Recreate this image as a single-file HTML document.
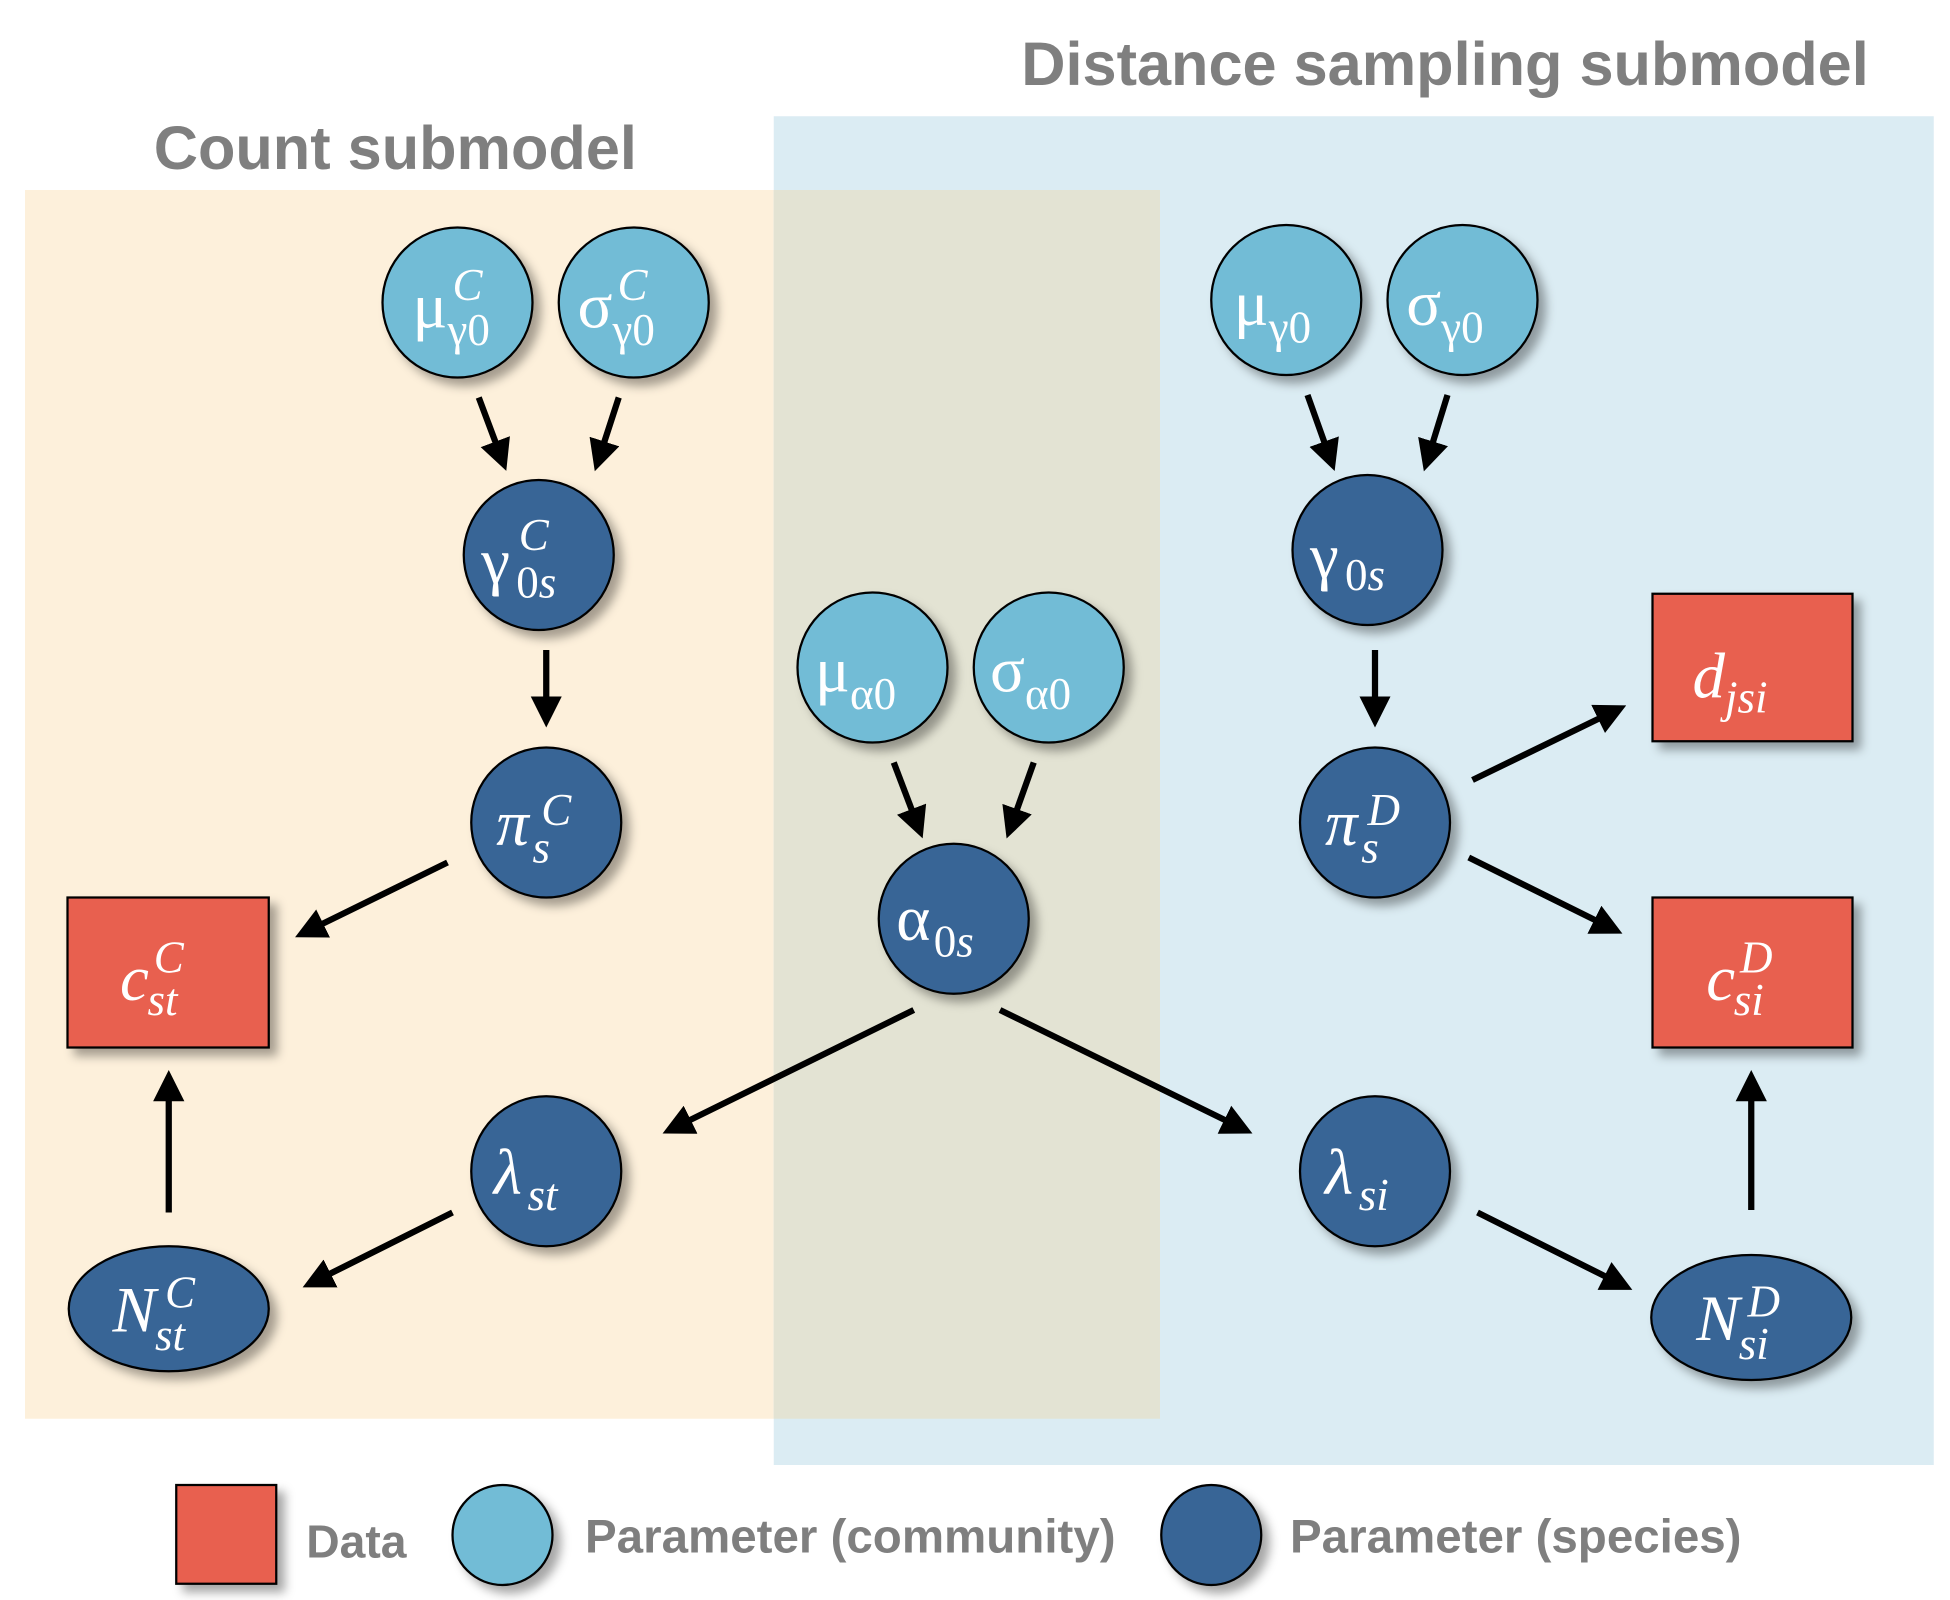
<!DOCTYPE html>
<html><head><meta charset="utf-8"><style>
html,body{margin:0;padding:0;background:#fff;}
svg{display:block;}
.t text{font-family:"Liberation Serif",serif;fill:#fff;}
.b{font-size:52px;}
.s{font-size:36px;}
.i{font-style:italic;}
.h{font-family:"Liberation Sans",sans-serif;font-weight:bold;fill:#7f7f7f;}
</style></head><body>
<svg width="1950" height="1600" viewBox="0 0 1560 1280" preserveAspectRatio="none" xmlns="http://www.w3.org/2000/svg">
<defs>
<filter id="sh" x="-30%" y="-30%" width="170%" height="170%"><feDropShadow dx="6" dy="6" stdDeviation="4" flood-color="#000" flood-opacity="0.35"/></filter>
<marker id="a" markerWidth="5" markerHeight="5" refX="1" refY="2.5" orient="auto" markerUnits="strokeWidth"><path d="M0,0 L5,2.5 L0,5 z" fill="#000"/></marker>
</defs>
<rect x="20" y="152" width="908" height="983" fill="#fdf0db"/>
<rect x="619" y="93" width="928" height="1079" fill="#dbecf3"/>
<rect x="619" y="152" width="309" height="983" fill="#e3e3d3"/>
<text class="h" x="123" y="135" font-size="49">Count submodel</text>
<text class="h" x="817" y="68" font-size="49">Distance sampling submodel</text>
<g stroke="#000" stroke-width="5" marker-end="url(#a)">
<line x1="383" y1="318" x2="398" y2="358"/>
<line x1="495" y1="318" x2="482" y2="358"/>
<line x1="437" y1="520" x2="437" y2="562"/>
<line x1="358" y1="690" x2="254" y2="741"/>
<line x1="135" y1="970" x2="135" y2="876"/>
<line x1="362" y1="970" x2="260" y2="1021"/>
<line x1="731" y1="808" x2="548" y2="898"/>
<line x1="800" y1="808" x2="984" y2="898"/>
<line x1="1046" y1="316" x2="1061" y2="358"/>
<line x1="1158" y1="316" x2="1145" y2="358"/>
<line x1="1100" y1="520" x2="1100" y2="562"/>
<line x1="1178" y1="624" x2="1283" y2="573"/>
<line x1="1175" y1="686" x2="1280" y2="738"/>
<line x1="1182" y1="970" x2="1288" y2="1023"/>
<line x1="1401" y1="968" x2="1401" y2="876"/>
<line x1="715" y1="610" x2="731" y2="652"/>
<line x1="827" y1="610" x2="812" y2="652"/>
</g>
<g stroke="#000" stroke-width="1.8" filter="url(#sh)">
<circle cx="366" cy="242" r="60" fill="#72bcd6"/>
<circle cx="507" cy="242" r="60" fill="#72bcd6"/>
<circle cx="1029" cy="240" r="60" fill="#72bcd6"/>
<circle cx="1170" cy="240" r="60" fill="#72bcd6"/>
<circle cx="698" cy="534" r="60" fill="#72bcd6"/>
<circle cx="839" cy="534" r="60" fill="#72bcd6"/>
<circle cx="431" cy="444" r="60" fill="#376596"/>
<circle cx="437" cy="658" r="60" fill="#376596"/>
<circle cx="437" cy="937" r="60" fill="#376596"/>
<circle cx="1094" cy="440" r="60" fill="#376596"/>
<circle cx="1100" cy="658" r="60" fill="#376596"/>
<circle cx="1100" cy="937" r="60" fill="#376596"/>
<circle cx="763" cy="735" r="60" fill="#376596"/>
<ellipse cx="135" cy="1047" rx="80" ry="50" fill="#376596"/>
<ellipse cx="1401" cy="1054" rx="80" ry="50" fill="#376596"/>
<rect x="54" y="718" width="161" height="120" fill="#e8604f"/>
<rect x="1322" y="475" width="160" height="118" fill="#e8604f"/>
<rect x="1322" y="718" width="160" height="120" fill="#e8604f"/>
<rect x="141" y="1188" width="80" height="79" fill="#e8604f"/>
<circle cx="402" cy="1228" r="40" fill="#72bcd6"/>
<circle cx="969" cy="1228" r="40" fill="#376596"/>
</g>
<g class="t">
<text class="b" x="330" y="262">μ</text><text class="s" x="358" y="276">γ0</text><text class="s i" x="362" y="240">C</text>
<text class="b" x="462" y="262">σ</text><text class="s" x="490" y="276">γ0</text><text class="s i" x="494" y="240">C</text>
<text class="b" x="987" y="260">μ</text><text class="s" x="1015" y="274">γ0</text>
<text class="b" x="1125" y="260">σ</text><text class="s" x="1153" y="274">γ0</text>
<text class="b" x="652" y="553">μ</text><text class="s" x="680" y="567">α0</text>
<text class="b" x="792" y="553">σ</text><text class="s" x="820" y="567">α0</text>
<text class="b" x="385" y="466">γ</text><text class="s" x="413" y="478">0<tspan class="i">s</tspan></text><text class="s i" x="415" y="440">C</text>
<text class="b" x="1048" y="462">γ</text><text class="s" x="1076" y="472">0<tspan class="i">s</tspan></text>
<text class="b i" x="397" y="676">π</text><text class="s i" x="426" y="690">s</text><text class="s i" x="433" y="660">C</text>
<text class="b i" x="1060" y="676">π</text><text class="s i" x="1089" y="690">s</text><text class="s i" x="1094" y="660">D</text>
<text class="b" x="717" y="752">α</text><text class="s" x="747" y="765">0<tspan class="i">s</tspan></text>
<text class="b i" x="395" y="955">λ</text><text class="s i" x="422" y="968">st</text>
<text class="b i" x="1060" y="955">λ</text><text class="s i" x="1087" y="968">si</text>
<text class="b i" x="96" y="800">c</text><text class="s i" x="118" y="812">st</text><text class="s i" x="123" y="778">C</text>
<text class="b i" x="1365" y="800">c</text><text class="s i" x="1387" y="812">si</text><text class="s i" x="1392" y="778">D</text>
<text class="b i" x="1354" y="558">d</text><text class="s i" x="1380" y="570">jsi</text>
<text class="b i" x="90" y="1065">N</text><text class="s i" x="124" y="1080">st</text><text class="s i" x="132" y="1046">C</text>
<text class="b i" x="1357" y="1072">N</text><text class="s i" x="1391" y="1087">si</text><text class="s i" x="1398" y="1053">D</text>
</g>
<text class="h" x="245" y="1246" font-size="37">Data</text>
<text class="h" x="468" y="1242" font-size="38">Parameter (community)</text>
<text class="h" x="1032" y="1242" font-size="38">Parameter (species)</text>
</svg>
</body></html>
